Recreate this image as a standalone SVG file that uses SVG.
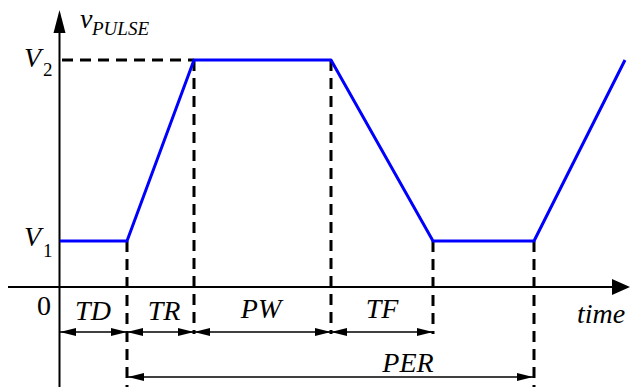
<svg xmlns="http://www.w3.org/2000/svg" width="630" height="387" viewBox="0 0 630 387">
<defs>
<marker id="ah" viewBox="0 0 16 8" refX="16" refY="4" markerWidth="16" markerHeight="8" markerUnits="userSpaceOnUse" orient="auto-start-reverse">
<path d="M0,0 L16,4 L0,8 Z" fill="#000"/>
</marker>
</defs>
<g id="axes" stroke="#000" stroke-width="2" fill="none">
<line x1="59.5" y1="30" x2="59.5" y2="387"/>
<line x1="8" y1="287" x2="614" y2="287"/>
</g>
<path d="M59.5,10 L65.5,33 L53.5,33 Z" fill="#000"/>
<path d="M630,287 L612,279 L612,295 Z" fill="#000"/>
<g id="connectors" stroke="#000" fill="none">
<g stroke-width="3" stroke-dasharray="11 7">
<line x1="62" y1="60" x2="194" y2="60"/>
<line x1="127" y1="241" x2="127" y2="387"/>
<line x1="194" y1="60" x2="194" y2="334"/>
<line x1="331" y1="60" x2="331" y2="334"/>
<line x1="433" y1="241" x2="433" y2="334"/>
<line x1="534" y1="241" x2="534" y2="387"/>
</g>
<g stroke-width="1.5" marker-start="url(#ah)" marker-end="url(#ah)">
<line x1="60" y1="332" x2="127" y2="332"/>
<line x1="127" y1="332" x2="194" y2="332"/>
<line x1="194" y1="332" x2="331" y2="332"/>
<line x1="331" y1="332" x2="433" y2="332"/>
<line x1="128" y1="377" x2="533" y2="377"/>
</g>
</g>
<g id="waveform">
<polyline points="60,241 127,241 194,60 331,60 433,241 534,241 625,60" stroke="#0000ff" stroke-width="3" fill="none" stroke-linejoin="round"/>
</g>
<g id="labels" font-family="Liberation Serif" fill="#000">
<text x="80" y="28" font-size="28" font-style="italic">v</text>
<text x="92" y="35" font-size="19" font-style="italic">PULSE</text>
<text x="24" y="67" font-size="28" font-style="italic">V</text>
<text x="43" y="76" font-size="19">2</text>
<text x="24" y="246" font-size="28" font-style="italic">V</text>
<text x="43" y="257" font-size="19">1</text>
<text x="44" y="315" font-size="28" text-anchor="middle">0</text>
<text x="93" y="320" font-size="28" font-style="italic" text-anchor="middle">TD</text>
<text x="164" y="320" font-size="28" font-style="italic" text-anchor="middle">TR</text>
<text x="261" y="318" font-size="28" font-style="italic" text-anchor="middle">PW</text>
<text x="382" y="318" font-size="28" font-style="italic" text-anchor="middle">TF</text>
<text x="408" y="372" font-size="28" font-style="italic" text-anchor="middle">PER</text>
<text x="601" y="323" font-size="28" font-style="italic" text-anchor="middle">time</text>
</g>
</svg>
